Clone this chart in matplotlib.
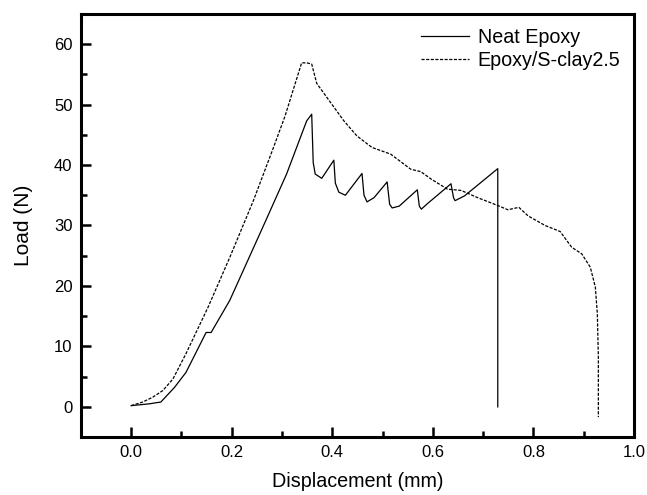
import numpy as np
import matplotlib.pyplot as plt
from matplotlib.ticker import MultipleLocator, FormatStrFormatter

plt.rcParams['font.family'] = ['Liberation Sans', 'DejaVu Sans']

# Neat epoxy load-displacement
neat_x = [0.0, 0.036, 0.059, 0.086, 0.109, 0.149, 0.159, 0.196, 0.266, 0.309,
          0.349, 0.359, 0.362, 0.366, 0.379, 0.403, 0.406, 0.413, 0.426, 0.459,
          0.463, 0.469, 0.483, 0.509, 0.514, 0.519, 0.533, 0.569, 0.573, 0.577,
          0.589, 0.636, 0.641, 0.644, 0.663, 0.729, 0.729]
neat_y = [0.2, 0.5, 0.8, 3.2, 5.7, 12.3, 12.3, 17.6, 30.5, 38.5,
          47.3, 48.4, 40.4, 38.5, 37.8, 40.8, 37.0, 35.5, 35.0, 38.6,
          35.0, 33.9, 34.6, 37.2, 33.5, 32.9, 33.2, 35.9, 33.2, 32.7,
          33.6, 36.9, 34.6, 34.1, 34.9, 39.4, 0.0]

# Epoxy/S-clay2.5 load-displacement
clay_x = [0.0, 0.023, 0.043, 0.063, 0.083, 0.109, 0.153, 0.196, 0.243, 0.283,
          0.306, 0.339, 0.349, 0.359, 0.369, 0.389, 0.423, 0.449, 0.479, 0.516,
          0.556, 0.576, 0.596, 0.629, 0.656, 0.689, 0.729, 0.749, 0.771, 0.789,
          0.823, 0.853, 0.876, 0.896, 0.913, 0.923, 0.927, 0.929, 0.929]
clay_y = [0.2, 0.8, 1.6, 2.7, 4.6, 8.8, 16.5, 24.7, 34.1, 42.9,
          48.1, 56.9, 56.9, 56.7, 53.5, 51.2, 47.3, 44.8, 42.9, 41.8,
          39.3, 38.9, 37.7, 36.0, 35.8, 34.6, 33.3, 32.6, 33.0, 31.6,
          30.0, 29.0, 26.4, 25.3, 23.1, 19.8, 15.4, 8.2, -1.7]

fig = plt.figure(figsize=(6.47, 4.95), dpi=100)
ax = fig.add_axes([0.125, 0.117, 0.855, 0.855])

ax.plot(neat_x, neat_y, color='black', lw=0.9, label='Neat Epoxy')
ax.plot(clay_x, clay_y, color='black', lw=0.9, linestyle=(0, (2.5, 1.2)),
        label='Epoxy/S-clay2.5')

ax.set_xlim(-0.1, 1.0)
ax.set_ylim(-5, 65)
ax.xaxis.set_major_locator(MultipleLocator(0.2))
ax.xaxis.set_minor_locator(MultipleLocator(0.1))
ax.xaxis.set_major_formatter(FormatStrFormatter('%.1f'))
ax.yaxis.set_major_locator(MultipleLocator(10))
ax.yaxis.set_minor_locator(MultipleLocator(5))

for s in ax.spines.values():
    s.set_linewidth(2.2)
ax.tick_params(which='both', direction='in', top=False, right=False, labelsize=12)
ax.tick_params(which='major', length=7, width=1.8)
ax.tick_params(which='minor', length=4, width=1.8)
ax.tick_params(axis='x', pad=6)
ax.tick_params(axis='y', pad=6)

ax.set_xlabel('Displacement (mm)', fontsize=14.2, labelpad=8)
ax.set_ylabel('Load (N)', fontsize=15, labelpad=15)

ax.legend(loc='upper right', frameon=False, fontsize=14.2, handlelength=2.4,
          handletextpad=0.45, borderaxespad=0.3, labelspacing=0.2)

fig.savefig('out.png', dpi=100)
